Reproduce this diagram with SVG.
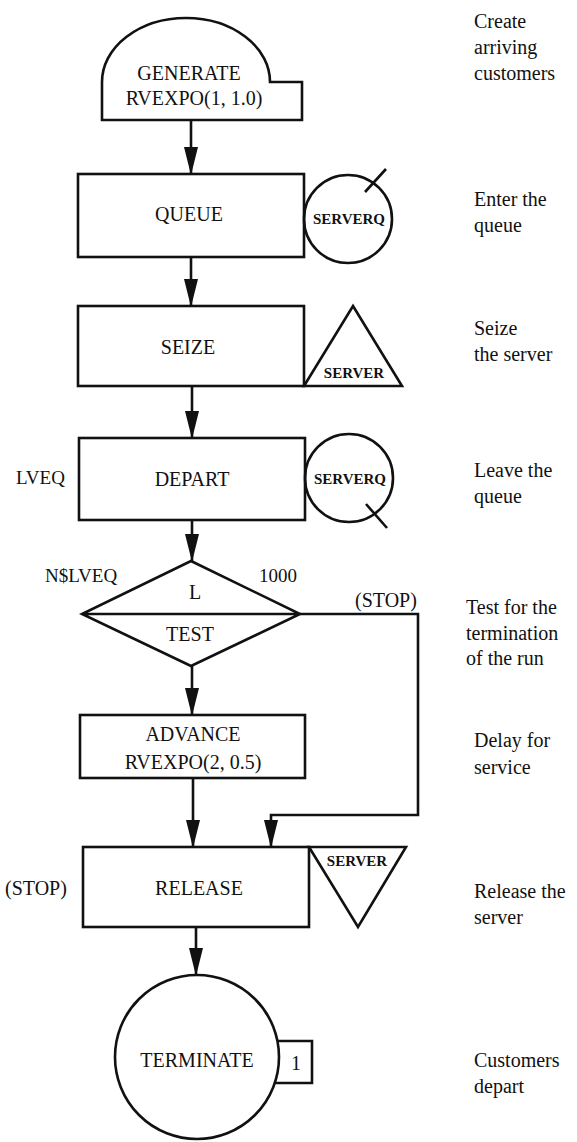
<svg xmlns="http://www.w3.org/2000/svg" width="577" height="1142" viewBox="0 0 577 1142">
<style>
.s{fill:none;stroke:#111;stroke-width:2.6;stroke-linejoin:miter}
.t{font-family:"Liberation Serif","Times New Roman",serif;font-size:20px;fill:#111}
.c{text-anchor:middle}
.b{font-family:"Liberation Serif","Times New Roman",serif;font-size:15px;font-weight:bold;fill:#111;text-anchor:middle}
.n{font-family:"Liberation Serif","Times New Roman",serif;font-size:19px;fill:#111}
.l{fill:none;stroke:#111;stroke-width:2.6}
</style>
<defs>
<marker id="ah" markerUnits="userSpaceOnUse" markerWidth="28" markerHeight="16" viewBox="0 0 28 16" refX="27" refY="8" orient="auto">
<path d="M0,1 L28,8 L0,15 z" fill="#111"/>
</marker>
</defs>
<rect width="577" height="1142" fill="#fff"/>

<g id="connectors">
<line class="l" x1="191" y1="121" x2="191" y2="174" marker-end="url(#ah)"/>
<line class="l" x1="191" y1="257" x2="191" y2="306" marker-end="url(#ah)"/>
<line class="l" x1="192" y1="386" x2="192" y2="438" marker-end="url(#ah)"/>
<line class="l" x1="192" y1="520" x2="192" y2="561" marker-end="url(#ah)"/>
<line class="l" x1="192" y1="666" x2="192" y2="715" marker-end="url(#ah)"/>
<line class="l" x1="193" y1="778" x2="193" y2="847" marker-end="url(#ah)"/>
<path class="l" d="M300,614 H418 V815 H271 V847" marker-end="url(#ah)"/>
<line class="l" x1="196" y1="927" x2="196" y2="975" marker-end="url(#ah)"/>
</g>

<g id="generate">
<path class="s" d="M102,120 V82 A84,64 0 0 1 270,82 H302 V120 Z"/>
<text class="t c" x="189" y="80">GENERATE</text>
<text class="t c" x="194" y="105">RVEXPO(1, 1.0)</text>
</g>

<g id="queue">
<rect class="s" x="78" y="174" width="226" height="83"/>
<text class="t c" x="189" y="221">QUEUE</text>
<circle class="s" cx="348" cy="219" r="44"/>
<line class="l" x1="365" y1="192" x2="386" y2="169"/>
<text class="b" x="349" y="224">SERVERQ</text>
</g>

<g id="seize">
<rect class="s" x="78" y="306" width="226" height="80"/>
<text class="t c" x="188" y="354">SEIZE</text>
<path class="s" d="M353,306 L402,386 H304 Z"/>
<text class="b" x="354" y="378">SERVER</text>
</g>

<g id="depart">
<rect class="s" x="79" y="438" width="226" height="82"/>
<text class="t c" x="192" y="486">DEPART</text>
<text class="n" x="16" y="484">LVEQ</text>
<circle class="s" cx="349" cy="478" r="44"/>
<line class="l" x1="366" y1="504" x2="387" y2="528"/>
<text class="b" x="350" y="484">SERVERQ</text>
</g>

<g id="test">
<path class="s" d="M191,561 L300,614 L191,666 L82,614 Z M82,614 H300"/>
<text class="t c" x="195" y="599">L</text>
<text class="t c" x="190" y="641">TEST</text>
<text class="n" x="45" y="582">N$LVEQ</text>
<text class="n" x="259" y="582">1000</text>
<text class="t" x="355" y="607">(STOP)</text>
</g>

<g id="advance">
<rect class="s" x="80" y="715" width="225" height="63"/>
<text class="t c" x="193" y="741">ADVANCE</text>
<text class="t c" x="193" y="769">RVEXPO(2, 0.5)</text>
</g>

<g id="release">
<rect class="s" x="83" y="847" width="226" height="80"/>
<text class="t c" x="199" y="895">RELEASE</text>
<text class="t" x="5" y="895">(STOP)</text>
<path class="s" d="M309,847 H406 L358,927 Z"/>
<text class="b" x="357" y="866">SERVER</text>
</g>

<g id="terminate">
<circle class="s" cx="197" cy="1057" r="82"/>
<path class="s" d="M277,1041 H312 V1083 H275"/>
<text class="t c" x="197" y="1067">TERMINATE</text>
<text class="t c" x="296" y="1070">1</text>
</g>

<g id="notes">
<text class="t" x="474" y="28">Create</text>
<text class="t" x="474" y="54">arriving</text>
<text class="t" x="474" y="80">customers</text>
<text class="t" x="474" y="206">Enter the</text>
<text class="t" x="474" y="232">queue</text>
<text class="t" x="474" y="335">Seize</text>
<text class="t" x="474" y="361">the server</text>
<text class="t" x="474" y="477">Leave the</text>
<text class="t" x="474" y="503">queue</text>
<text class="t" x="466" y="614">Test for the</text>
<text class="t" x="466" y="640">termination</text>
<text class="t" x="466" y="665">of the run</text>
<text class="t" x="474" y="747">Delay for</text>
<text class="t" x="474" y="774">service</text>
<text class="t" x="474" y="898">Release the</text>
<text class="t" x="474" y="924">server</text>
<text class="t" x="474" y="1067">Customers</text>
<text class="t" x="474" y="1093">depart</text>
</g>
</svg>
